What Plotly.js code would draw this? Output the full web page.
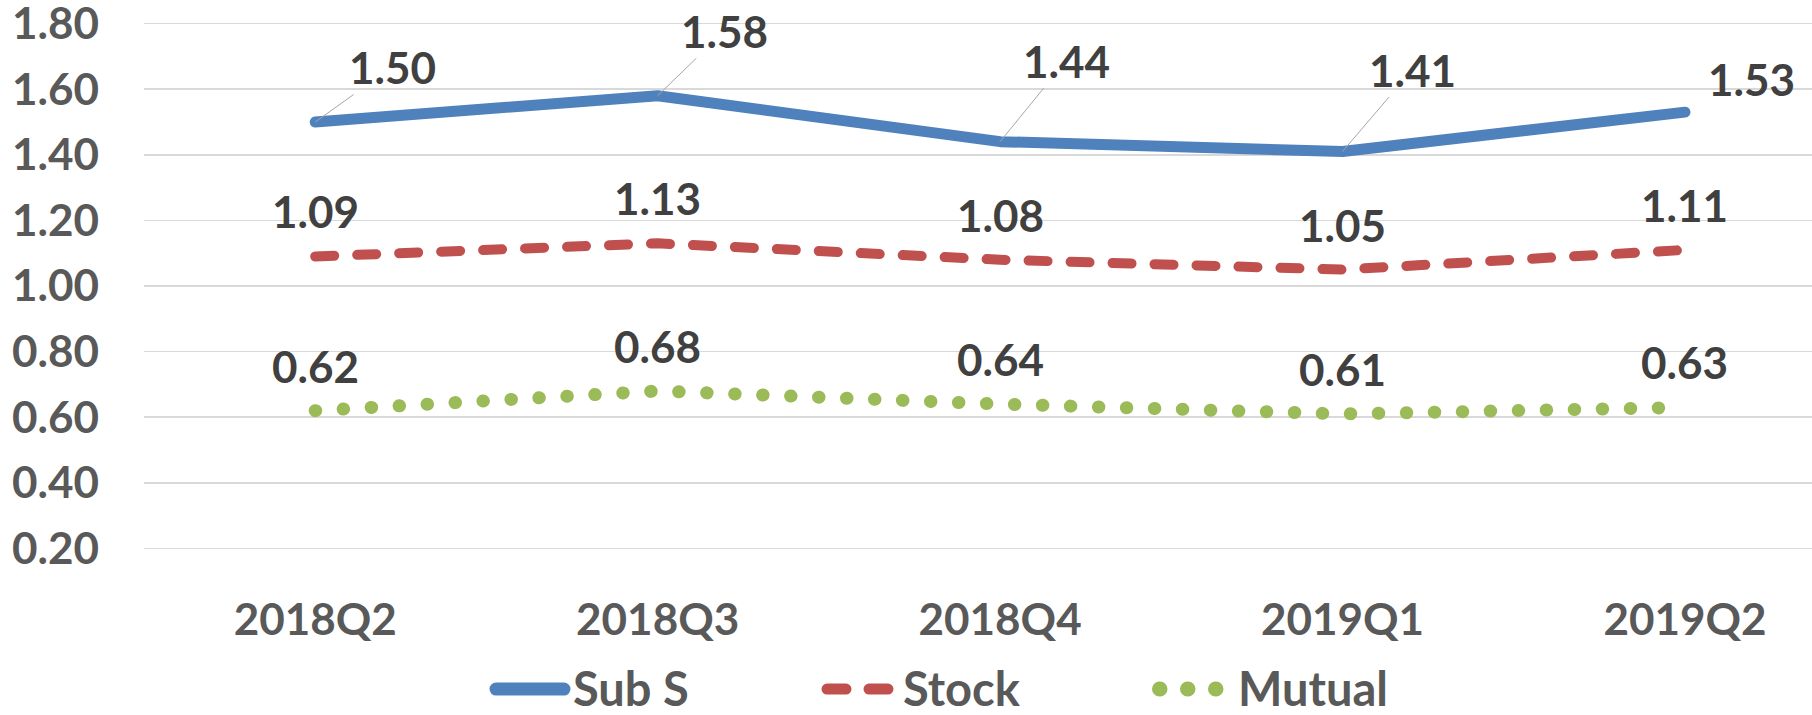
<!DOCTYPE html>
<html>
<head>
<meta charset="utf-8">
<script src="https://cdn.plot.ly/plotly-3.0.1.min.js"></script>
<style>
  html, body { margin: 0; padding: 0; background: #fff; }
  #chart { width: 1812px; height: 715px; }
  .js-line, .shapelayer path { stroke-linecap: round; stroke-linejoin: round; }
</style>
</head>
<body>
<div id="chart"></div>
<script>
// ---- data ----
const categories = ['2018Q2', '2018Q3', '2018Q4', '2019Q1', '2019Q2'];
const subS   = [1.50, 1.58, 1.44, 1.41, 1.53];
const stock  = [1.09, 1.13, 1.08, 1.05, 1.11];
const mutual = [0.62, 0.68, 0.64, 0.61, 0.63];
const seriesNames = ['Sub S', 'Stock', 'Mutual'];
const yTickVals = [0.20, 0.40, 0.60, 0.80, 1.00, 1.20, 1.40, 1.60, 1.80];

// ---- styles ----
const colors = ['#4F81BD', '#C0504D', '#9BBB59'];
const widths = [11, 10, 13];
const dashes = ['solid', '19px,23px', '0.5px,27.5px'];
const labelFont = { family: 'Lato, "Open Sans", sans-serif', size: 44, color: '#404040', weight: 'bold' };
const tickFont  = { family: 'Lato, "Open Sans", sans-serif', size: 44, color: '#595959', weight: 'bold' };
const legendFont = { family: 'Lato, "Open Sans", sans-serif', size: 47, color: '#595959', weight: 'bold' };

const seriesValues = [subS, stock, mutual];

const traces = seriesValues.map((vals, i) => ({
  type: 'scatter',
  mode: 'lines',
  x: categories,
  y: vals,
  name: seriesNames[i],
  line: { color: colors[i], width: widths[i], dash: dashes[i] },
  hoverinfo: 'x+y+name',
  showlegend: false
}));

// data label offsets (pixels) for the Sub S series (leader lines)
const subSOffsets = [[77, -55], [67, -65], [66, -81], [70, -82], [67, -33]];

const annotations = [];
subS.forEach((v, i) => {
  const last = i === subS.length - 1;
  if (last) {
    annotations.push({
      x: categories[i], y: v, xref: 'x', yref: 'y',
      text: v.toFixed(2), showarrow: false,
      xshift: subSOffsets[i][0], yshift: -subSOffsets[i][1],
      font: labelFont
    });
  } else {
    annotations.push({
      x: categories[i], y: v, xref: 'x', yref: 'y',
      text: v.toFixed(2), showarrow: true,
      arrowhead: 0, arrowwidth: 1, arrowcolor: '#A6A6A6',
      ax: subSOffsets[i][0], ay: subSOffsets[i][1],
      font: labelFont
    });
  }
});
[stock, mutual].forEach(vals => {
  vals.forEach((v, i) => {
    annotations.push({
      x: categories[i], y: v, xref: 'x', yref: 'y',
      text: v.toFixed(2), showarrow: false,
      yshift: 45, font: labelFont
    });
  });
});

// ---- custom legend (paper coordinates) ----
const W = 1812, H = 715, mL = 144, mR = 0, mT = 16.7, mB = 160.1;
const pw = W - mL - mR, ph = H - mT - mB;
const px = p => (p - mL) / pw;
const py = p => (H - mB - p) / ph;
const legendY = 688;
const legendItems = [
  { x0: 496, x1: 564, tx: 572 },
  { x0: 827, x1: 888, tx: 902 },
  { x0: 1159.5, x1: 1216, tx: 1237 }
];
const shapes = legendItems.map((it, i) => ({
  type: 'line', xref: 'paper', yref: 'paper',
  x0: px(it.x0), x1: px(it.x1), y0: py(legendY + 1), y1: py(legendY + 1),
  line: { color: colors[i], width: i === 2 ? 15 : (i === 1 ? 11 : 13), dash: dashes[i] }
}));
legendItems.forEach((it, i) => {
  annotations.push({
    xref: 'paper', yref: 'paper', x: px(it.tx), y: py(legendY),
    xanchor: 'left', yanchor: 'middle', showarrow: false,
    height: 44, borderpad: 0,
    text: seriesNames[i], font: legendFont
  });
});

const layout = {
  width: W, height: H,
  margin: { l: mL, r: mR, t: mT, b: mB, pad: 0 },
  paper_bgcolor: '#ffffff',
  plot_bgcolor: '#ffffff',
  showlegend: false,
  xaxis: {
    type: 'category',
    range: [-0.5, 4.371],
    showgrid: false, zeroline: false, showline: false,
    ticks: '', ticklabelstandoff: 35,
    tickfont: tickFont,
    ticklabeloverflow: 'allow',
    fixedrange: true
  },
  yaxis: {
    range: [0.18, 1.82],
    tickvals: yTickVals,
    tickformat: '.2f',
    showgrid: true, gridcolor: '#D9D9D9', gridwidth: 1.5,
    zeroline: false, showline: false,
    ticks: '', ticklabelstandoff: 44,
    tickfont: tickFont,
    ticklabeloverflow: 'allow',
    fixedrange: true
  },
  annotations: annotations,
  shapes: shapes
};

Plotly.newPlot('chart', traces, layout, { displayModeBar: false, staticPlot: true });
</script>
</body>
</html>
